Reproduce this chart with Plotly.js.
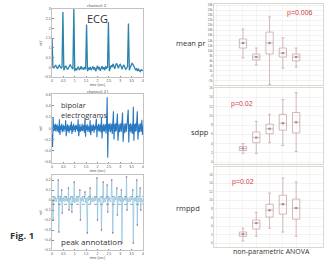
<!DOCTYPE html>
<html><head><meta charset="utf-8">
<script src="https://cdn.plot.ly/plotly-3.0.1.min.js"></script>
<style>html,body{margin:0;padding:0;background:#fff}#chart{width:331px;height:261px}</style>
</head><body><div id="chart"></div>
<script>
// ECG, channel 2 (sampled every 0.04 s from t=0)
const ecgValues = [1.45,0.05,-0.05,0.05,0.12,0.02,-0.08,0.02,0.1,0.03,
 -0.05,0.0,2.85,-0.15,0.0,0.08,0.0,-0.12,-0.05,0.06,
 0.14,0.04,-0.08,-0.1,3.0,-0.2,-0.05,-0.15,-0.05,0.03,
 -0.12,-0.08,0.05,-0.1,-0.02,-0.12,0.02,-0.1,2.2,-0.2,
 -0.05,-0.1,0.02,-0.15,-0.05,0.05,-0.12,0.0,-0.2,-0.05,
 0.08,-0.1,0.02,-0.18,-0.05,0.05,-0.1,0.0,-0.15,0.05,
 -0.05,0.0,2.33,-0.2,-0.05,0.1,0.0,0.18,0.05,-0.08,
 0.12,0.2,0.08,-0.05,0.1,0.15,0.05,-0.1,0.05,0.12,
 0.0,-0.12,-0.05,0.05,2.25,-0.15,0.0,0.1,0.2,0.15,
 0.05,-0.05,-0.15,-0.05,-0.2,-0.1,-0.15,-0.22,-0.12,-0.15,-0.18];
// bipolar electrograms, channel 21 (every 0.025 s)
const bipValues = [-0.1,-0.33,0.18,-0.05,0.06,-0.04,0.08,-0.06,0.03,0.07,
 -0.05,0.04,-0.08,0.16,-0.12,0.05,-0.03,0.08,-0.07,0.02,
 0.06,-0.06,0.04,-0.02,0.14,-0.14,0.03,0.07,-0.05,0.05,
 -0.08,0.02,0.06,-0.04,0.12,-0.1,0.05,-0.06,0.08,-0.03,
 0.04,-0.07,0.06,-0.02,0.05,-0.05,0.16,-0.14,0.04,0.07,
 -0.06,0.03,-0.04,0.08,-0.05,0.02,0.06,-0.08,0.18,-0.15,
 0.05,-0.03,0.07,-0.06,0.03,0.05,-0.07,0.14,-0.12,0.04,
 0.06,-0.05,0.02,0.07,-0.08,0.04,-0.03,0.06,0.17,-0.16,
 0.05,-0.04,0.08,-0.06,0.03,0.07,-0.07,0.2,-0.18,0.05,
 -0.05,0.08,-0.06,0.04,0.07,-0.09,0.1,0.55,-0.52,0.08,
 -0.06,0.05,0.09,-0.07,0.04,0.08,-0.1,0.06,0.3,-0.2,
 0.07,-0.06,0.09,-0.05,0.06,0.26,-0.22,0.05,0.08,-0.07,
 0.04,0.09,-0.06,0.05,0.28,-0.24,0.06,0.08,-0.08,0.05,
 0.09,-0.06,0.04,0.1,0.33,-0.25,0.07,-0.05,0.09,-0.08,
 0.05,0.08,-0.1,0.38,-0.22,0.07,-0.06,0.09,-0.05,0.06,
 0.3,-0.2,0.06,0.08,-0.07,0.05,0.09,-0.06,0.15,-0.12,0.05];
// peak annotation signal (every 0.025 s)
const pkValues = [0.02,-0.03,-0.2,0.03,0.01,-0.02,0.03,0.0,-0.02,0.02,
 0.01,0.2,-0.32,0.02,-0.01,0.03,-0.02,0.1,-0.13,0.02,
 -0.01,0.03,0.0,-0.02,0.02,0.04,-0.01,0.02,-0.02,0.12,
 -0.1,0.02,0.0,0.03,-0.02,-0.12,0.03,0.01,-0.02,0.18,
 -0.03,0.02,0.01,-0.02,0.03,0.0,-0.02,0.02,0.03,0.1,
 -0.2,0.02,-0.01,0.03,0.0,-0.02,0.02,0.01,0.08,-0.03,
 0.02,0.0,-0.33,0.03,-0.01,0.02,0.0,0.12,-0.04,0.02,
 0.01,-0.02,0.03,0.0,-0.02,0.02,0.03,-0.01,0.02,0.22,
 -0.2,0.02,0.0,-0.02,0.03,0.01,-0.02,-0.3,0.03,0.01,
 0.18,-0.03,0.02,0.0,-0.02,0.03,0.01,0.15,-0.12,0.02,
 -0.01,0.03,0.0,-0.02,0.02,0.2,-0.03,-0.33,0.02,0.01,
 -0.02,0.03,0.0,0.02,0.12,-0.15,0.02,-0.01,0.03,0.0,
 -0.02,0.02,0.1,-0.43,0.03,0.01,-0.02,0.02,0.0,0.03,
 -0.01,0.23,-0.1,0.02,0.0,-0.02,0.03,0.01,-0.02,0.02,
 0.0,0.03,0.1,-0.43,0.02,-0.01,0.03,0.0,-0.02,0.2,
 -0.25,0.02,0.01,-0.02,0.03,0.12,-0.1,0.02,0.0,-0.02,0.01];
const peakTimes = [0.05,0.275,0.3,0.425,0.45,0.725,0.75,0.875,0.975,1.225,1.25,1.45,1.55,1.675,1.975,2.0,2.175,2.25,2.425,2.45,2.625,2.675,2.85,2.875,3.05,3.075,3.275,3.3,3.55,3.575,3.725,3.75,3.875,3.9];
const peakVals = [-0.2,0.2,-0.32,0.1,-0.13,0.12,-0.1,-0.12,0.18,0.1,-0.2,0.08,-0.33,0.12,0.22,-0.2,-0.3,0.18,0.15,-0.12,0.2,-0.33,0.12,-0.15,0.1,-0.43,0.23,-0.1,0.1,-0.43,0.2,-0.25,0.12,-0.1];
const thresholds = [0.033, -0.043];

// box plot statistics, 5 groups
const groups = [1,2,3,4,5];
const meanPr = {lo:[7100,4300,-3400,3100,3500], q1:[11000,6300,8650,7450,5900], med:[13000,7460,13000,9000,7450], q3:[14600,8650,17300,11000,8650], hi:[18500,11000,23300,15000,11000]};
const sdpp   = {lo:[1.9,1.9,4.2,3.6,2.3], q1:[2.5,4.2,6.1,6.9,6.3], med:[2.95,5.3,7.2,8.4,8.6], q3:[3.37,6.5,8.2,10.3,10.7], hi:[4.0,8.8,10.3,13.5,15.0]};
const rmppd  = {lo:[0.5,1.6,3.5,2.6,1.6], q1:[1.6,3.3,6.1,6.8,5.6], med:[2.1,4.7,7.7,9.1,8.2], q3:[2.6,5.4,9.1,11.2,10.3], hi:[3.5,7.2,11.7,15.2,14.3]};
const pTexts = ['p=0.006','p=0.02','p=0.02'];

const W=331,H=261;
const px=x=>x/W, py=y=>1-y/H;
const tf={family:'Liberation Sans, Arial, sans-serif',size:3.5,color:'#555'};
const traces=[];
traces.push({type:'scatter',mode:'lines',x0:0,dx:0.04,y:ecgValues,xaxis:'x',yaxis:'y',line:{color:'#2b82ad',width:1.3}});
traces.push({type:'scatter',mode:'lines',x0:0,dx:0.025,y:bipValues,xaxis:'x2',yaxis:'y2',line:{color:'#2878c2',width:1.1}});
traces.push({type:'scatter',mode:'lines',x0:0,dx:0.025,y:pkValues,xaxis:'x3',yaxis:'y3',line:{color:'#86bedb',width:0.7}});
thresholds.forEach(v=>traces.push({type:'scatter',mode:'lines',x:[0,4],y:[v,v],xaxis:'x3',yaxis:'y3',line:{color:'#666',width:0.6,dash:'dot'}}));
traces.push({type:'scatter',mode:'markers',x:peakTimes,y:peakVals,xaxis:'x3',yaxis:'y3',marker:{color:'#a85a74',size:1.6}});
[[meanPr,'4'],[sdpp,'5'],[rmppd,'6']].forEach(([d,k])=>{
  traces.push({type:'box',x:groups,q1:d.q1,median:d.med,q3:d.q3,lowerfence:d.lo,upperfence:d.hi,xaxis:'x'+k,yaxis:'y'+k,
    width:0.55,whiskerwidth:0.4,line:{color:'#c9a8a8',width:0.8},fillcolor:'rgba(255,255,255,0)',boxpoints:false,hoverinfo:'none'});
  traces.push({type:'scatter',mode:'markers',x:groups,y:d.med,xaxis:'x'+k,yaxis:'y'+k,marker:{symbol:'square',size:2.2,color:'#a88888'}});
});

const leftX={domain:[px(52),px(143)],range:[0,4],dtick:0.5,showline:true,mirror:true,linecolor:'#9a9a9a',linewidth:0.6,ticks:'inside',ticklen:1.5,tickcolor:'#888',tickfont:tf,showgrid:false,zeroline:false,fixedrange:true,title:{text:'time (sec)',font:tf,standoff:1}};
const rightX={domain:[px(214),px(323)],range:[-1.18,7.02],dtick:1,showline:true,mirror:true,linecolor:'#cfcfbf',linewidth:0.8,showgrid:true,gridcolor:'#ececec',gridwidth:0.5,showticklabels:false,ticks:'',zeroline:false};
const rightY=(d,r,dt)=>Object.assign({domain:d,range:r,dtick:dt,showline:true,mirror:true,linecolor:'#cfcfbf',linewidth:0.8,showgrid:true,gridcolor:'#e6e6e6',gridwidth:0.5,tickfont:{family:'Liberation Sans, Arial, sans-serif',size:3,color:'#666'},ticks:'',zeroline:false});
const leftY=(d,r,dt,a)=>({domain:d,range:r,dtick:dt,anchor:a,showline:true,mirror:true,linecolor:'#9a9a9a',linewidth:0.6,ticks:'inside',ticklen:1.5,tickcolor:'#888',tickfont:tf,showgrid:false,zeroline:false,title:{text:'mV',font:tf,standoff:1}});

const layout={width:W,height:H,margin:{l:0,r:0,t:0,b:0},paper_bgcolor:'#fff',plot_bgcolor:'#fff',showlegend:false,
 xaxis:Object.assign({},leftX,{anchor:'y'}),
 yaxis:leftY([py(77),py(9)],[-0.5,3.0],0.5,'x'),
 xaxis2:Object.assign({},leftX,{anchor:'y2'}),
 yaxis2:leftY([py(163),py(94)],[-0.614,0.607],0.2,'x2'),
 xaxis3:Object.assign({},leftX,{anchor:'y3'}),
 yaxis3:leftY([py(250),py(175)],[-0.5,0.25],0.1,'x3'),
 xaxis4:Object.assign({},rightX,{anchor:'y4'}),
 yaxis4:Object.assign(rightY([py(85),py(4)],[-3600,28400],2000),{anchor:'x4'}),
 xaxis5:Object.assign({},rightX,{anchor:'y5'}),
 yaxis5:Object.assign(rightY([py(164),py(88)],[-0.4,16],2),{anchor:'x5'}),
 xaxis6:Object.assign({},rightX,{anchor:'y6'}),
 yaxis6:Object.assign(rightY([py(247),py(167)],[-0.9,17.8],2),{anchor:'x6'}),
 annotations:[]
};
const A=(t,x,y,s,o)=>layout.annotations.push(Object.assign({text:t,x:px(x),y:py(y),xref:'paper',yref:'paper',showarrow:false,xanchor:'center',yanchor:'middle',font:{family:'Open Sans, Liberation Sans, sans-serif',size:s,color:'#333'}},o||{}));
A('channel: 2',97,6,4);
A('channel: 21',97,91,4);
A('ECG',98,19,11);
A('bipolar<br>electrograms',59,110,7.5,{xanchor:'left',align:'left'});
A('peak annotation',91,241,8);
A('<b>Fig. 1</b>',22,235,9.5);
A('mean pr',191,43,7.5);
A('sdpp',200,132,7.5);
A('rmppd',188,208,7.5);
A('non-parametric ANOVA',271,251,7);
const red={family:'Liberation Sans, Arial, sans-serif',size:7,color:'#d23c3c'};
A(pTexts[0],300,13,7,{font:red});
A(pTexts[1],242,104,7,{font:red});
A(pTexts[2],243,182,7,{font:red});

Plotly.newPlot('chart',traces,layout,{staticPlot:true,displayModeBar:false});
</script></body></html>
